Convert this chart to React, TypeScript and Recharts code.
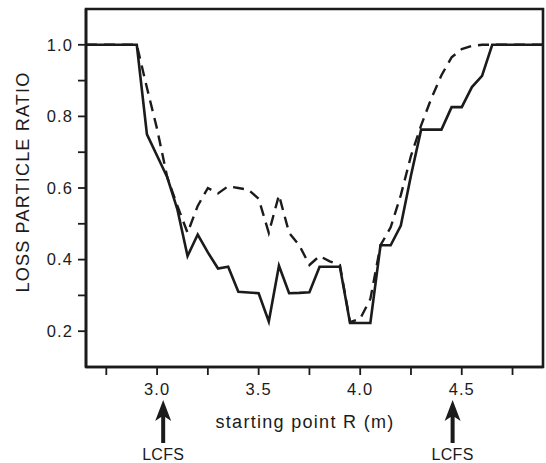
import { LineChart, Line, XAxis, YAxis, ReferenceArea, ReferenceDot } from "recharts";

// starting point R (m), one sample every 0.05 m
const startR = [
  2.65, 2.7, 2.75, 2.8, 2.85, 2.9, 2.95, 3.0, 3.05, 3.1, 3.15, 3.2, 3.25, 3.3, 3.35, 3.4,
  3.45, 3.5, 3.55, 3.6, 3.65, 3.7, 3.75, 3.8, 3.85, 3.9, 3.95, 4.0, 4.05, 4.1, 4.15, 4.2,
  4.25, 4.3, 4.35, 4.4, 4.45, 4.5, 4.55, 4.6, 4.65, 4.7, 4.75, 4.8, 4.85, 4.9,
];

// solid curve
const lossSolid = [
  1.0, 1.0, 1.0, 1.0, 1.0, 1.0, 0.75, 0.69, 0.63, 0.54, 0.41, 0.47, 0.42, 0.375, 0.38, 0.31,
  0.308, 0.306, 0.227, 0.383, 0.306, 0.307, 0.309, 0.38, 0.38, 0.38, 0.223, 0.223, 0.223, 0.44, 0.44, 0.495,
  0.635, 0.763, 0.763, 0.763, 0.826, 0.826, 0.882, 0.913, 1.0, 1.0, 1.0, 1.0, 1.0, 1.0,
];

// dashed curve
const lossDashed = [
  1.0, 1.0, 1.0, 1.0, 1.0, 1.0, 0.88, 0.765, 0.63, 0.55, 0.475, 0.55, 0.6, 0.585, 0.605, 0.6,
  0.595, 0.57, 0.475, 0.58, 0.475, 0.44, 0.385, 0.41, 0.395, 0.385, 0.225, 0.235, 0.29, 0.44, 0.49, 0.58,
  0.69, 0.775, 0.85, 0.915, 0.965, 0.988, 0.997, 1.0, 1.0, 1.0, 1.0, 1.0, 1.0, 1.0,
];

const xTicks = [2.75, 3.0, 3.25, 3.5, 3.75, 4.0, 4.25, 4.5, 4.75];
const xLabeled = [3.0, 3.5, 4.0, 4.5];
const yTicks = [0.2, 0.3, 0.4, 0.5, 0.6, 0.7, 0.8, 0.9, 1.0];
const yLabeled = [0.2, 0.4, 0.6, 0.8, 1.0];
const lcfsR = [3.03, 4.455];

const INK = "#1b1b1b";
const FONT = "'Liberation Sans', Arial, Helvetica, sans-serif";

function XTick(props: any) {
  const { x, y, payload } = props;
  if (!xLabeled.includes(payload.value)) return <g />;
  return (
    <text x={x} y={y} dy="0.71em" textAnchor="middle" fontFamily={FONT} fontSize={16.5} letterSpacing={1.1} fill={INK}>
      {payload.value.toFixed(1)}
    </text>
  );
}

function YTick(props: any) {
  const { x, y, payload } = props;
  if (!yLabeled.includes(payload.value)) return <g />;
  return (
    <text x={x} y={y} dy="0.355em" textAnchor="end" fontFamily={FONT} fontSize={16.5} letterSpacing={1.1} fill={INK}>
      {payload.value.toFixed(1)}
    </text>
  );
}

function LcfsArrow(p: any) {
  const { cx, cy } = p;
  const pts = [
    [cx, cy + 33],
    [cx + 8, cy + 54],
    [cx + 2, cy + 50],
    [cx + 2, cy + 76],
    [cx - 2, cy + 76],
    [cx - 2, cy + 50],
    [cx - 8, cy + 54],
  ]
    .map((q) => q.join(","))
    .join(" ");
  return (
    <g>
      <polygon points={pts} fill={INK} />
      <text x={cx} y={cy + 93} textAnchor="middle" fontFamily={FONT} fontSize={16} letterSpacing={0.3} fill={INK}>
        LCFS
      </text>
    </g>
  );
}

export default function App() {
  const data = startR.map((r, i) => ({ r, solid: lossSolid[i], dashed: lossDashed[i] }));

  return (
    <div style={{ position: "absolute", left: 0, top: 0, width: 546, height: 463, background: "#fff" }}>
      <LineChart width={546} height={463} data={data} margin={{ top: 9, right: 3, bottom: 66, left: 0 }}>
        <XAxis
          dataKey="r"
          type="number"
          domain={[2.65, 4.9]}
          ticks={xTicks}
          interval={0}
          allowDataOverflow
          height={30}
          tickSize={8}
          tickMargin={8}
          tick={XTick}
          stroke={INK}
          axisLine={{ stroke: INK, strokeWidth: 2.6 }}
          tickLine={{ stroke: INK, strokeWidth: 1.8 }}
          label={{
            content: () => (
              <text x={305} y={428} textAnchor="middle" fontFamily={FONT} fontSize={18} letterSpacing={1.3} fill={INK}>
                starting point R (m)
              </text>
            ),
          }}
        />
        <YAxis
          type="number"
          domain={[0.1, 1.1]}
          ticks={yTicks}
          interval={0}
          allowDataOverflow
          width={86}
          tickSize={8}
          tickMargin={5}
          tick={YTick}
          stroke={INK}
          axisLine={{ stroke: INK, strokeWidth: 2.6 }}
          tickLine={{ stroke: INK, strokeWidth: 1.8 }}
          label={{
            content: () => (
              <text
                x={0}
                y={0}
                transform="translate(28.5,182) rotate(-90)"
                textAnchor="middle"
                fontFamily={FONT}
                fontSize={18}
                letterSpacing={1.2}
                fill={INK}
              >
                LOSS PARTICLE RATIO
              </text>
            ),
          }}
        />
        <ReferenceArea x1={2.65} x2={4.9} y1={0.1} y2={1.1} fill="none" stroke={INK} strokeWidth={2.6} ifOverflow="visible" />
        <Line
          dataKey="dashed"
          type="linear"
          stroke={INK}
          strokeWidth={2.4}
          strokeDasharray="11 7"
          dot={false}
          isAnimationActive={false}
        />
        <Line dataKey="solid" type="linear" stroke={INK} strokeWidth={2.6} dot={false} isAnimationActive={false} />
        {lcfsR.map((r) => (
          <ReferenceDot key={r} x={r} y={0.1} ifOverflow="visible" shape={LcfsArrow} />
        ))}
      </LineChart>
    </div>
  );
}
